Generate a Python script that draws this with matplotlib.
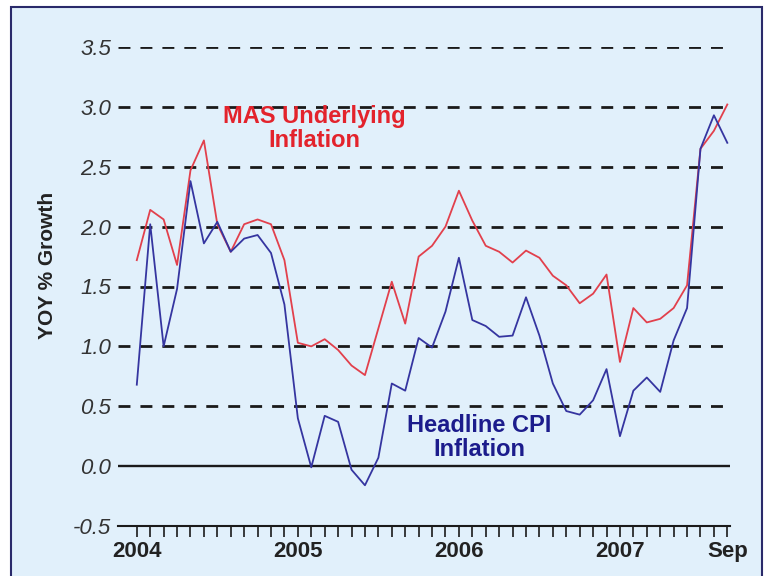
import numpy as np
import matplotlib.pyplot as plt
from matplotlib.patches import Rectangle

# monthly data, Jan 2004 .. Sep 2007
months = np.arange(45)
mas_underlying = [1.72, 2.14, 2.06, 1.68, 2.47, 2.72, 2.02, 1.79, 2.02, 2.06, 2.02, 1.72,
                  1.03, 1.00, 1.06, 0.97, 0.84, 0.76, 1.15, 1.54, 1.19, 1.75, 1.84, 2.00,
                  2.30, 2.05, 1.84, 1.79, 1.70, 1.80, 1.74, 1.59, 1.51, 1.36, 1.44, 1.60,
                  0.87, 1.32, 1.20, 1.23, 1.32, 1.51, 2.65, 2.80, 3.02]
headline_cpi = [0.68, 2.02, 1.00, 1.48, 2.38, 1.86, 2.04, 1.79, 1.90, 1.93, 1.78, 1.35,
                0.40, -0.01, 0.42, 0.37, -0.03, -0.16, 0.07, 0.69, 0.63, 1.07, 0.99, 1.29,
                1.74, 1.22, 1.17, 1.08, 1.09, 1.41, 1.09, 0.69, 0.46, 0.43, 0.55, 0.81,
                0.25, 0.63, 0.74, 0.62, 1.05, 1.32, 2.65, 2.93, 2.70]
xtick_pos = [0, 12, 24, 36, 44]
xtick_labels = ["2004", "2005", "2006", "2007", "Sep"]
ytick_vals = [-0.5, 0.0, 0.5, 1.0, 1.5, 2.0, 2.5, 3.0, 3.5]

fig = plt.figure(figsize=(7.64, 5.76), dpi=100)
fig.patch.set_facecolor("white")

# light blue panel with navy border
panel = Rectangle((11 / 764, -0.02), (762 - 11) / 764, 1.02 - 7 / 576,
                  transform=fig.transFigure, facecolor="#E1F0FB",
                  edgecolor="#2A2A6A", linewidth=1.5, zorder=-10)
fig.patches.append(panel)

ax = fig.add_axes([118 / 764, 1 - 526 / 576, (730 - 118) / 764, (526 - 47) / 576])
ax.set_zorder(5)
ax.set_facecolor("none")
ax.set_xlim(-1.4, 44.2)
ax.set_ylim(-0.5, 3.5)

for v in ytick_vals:
    if v == 0.0:
        ax.axhline(v, color="#1a1a1a", lw=1.7, zorder=1)
    elif v == -0.5:
        pass
    else:
        ax.axhline(v, color="#1a1a1a", lw=2.0, linestyle=(0, (4.3, 3.6)), zorder=1)

ax.plot(months, mas_underlying, color="#E2404C", lw=1.3, zorder=3, clip_on=False)
ax.plot(months, headline_cpi, color="#3535A0", lw=1.3, zorder=3, clip_on=False)

for side in ["top", "right", "left"]:
    ax.spines[side].set_visible(False)
ax.spines["bottom"].set_color("#1a1a1a")
ax.spines["bottom"].set_linewidth(1.5)

ax.set_yticks(ytick_vals)
ax.set_yticklabels(["%.1f" % v for v in ytick_vals], fontsize=16, style="italic",
                   color="#333333", family="Liberation Sans")
ax.tick_params(axis="y", length=0, pad=5)

ax.set_xticks(months, minor=True)
ax.set_xticks(xtick_pos)
ax.set_xticklabels(xtick_labels, fontsize=16, fontweight="bold", color="#222222",
                   family="Liberation Sans")
ax.tick_params(axis="x", which="both", direction="out", length=8, width=1.2,
               color="#1a1a1a", pad=3)

fig.text(48 / 764, 1 - 265 / 576, "YOY % Growth", rotation=90, ha="center", va="center",
         fontsize=15, fontweight="bold", color="#222222", family="Liberation Sans")

ax.text(13.2, 2.82, "MAS Underlying\nInflation", ha="center", va="center",
        fontsize=17, fontweight="bold", color="#E3232C", linespacing=1.05,
        family="Liberation Sans")
ax.text(25.5, 0.24, "Headline CPI\nInflation", ha="center", va="center",
        fontsize=17, fontweight="bold", color="#1C1C8C", linespacing=1.05,
        family="Liberation Sans")

fig.savefig("out.png", dpi=100)
